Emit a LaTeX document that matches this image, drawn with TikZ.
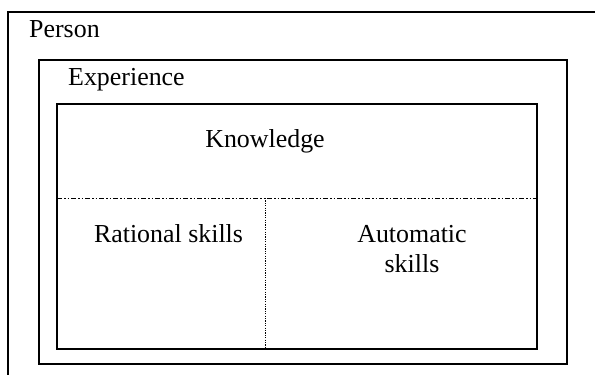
\documentclass[tikz,border=0pt]{standalone}
\usepackage{fontspec}
\setmainfont{Liberation Serif}
\usepackage{tikz}

\begin{document}
\begin{tikzpicture}[x=1bp,y=-1bp,every node/.style={inner sep=0pt,font=\fontsize{26}{30}\selectfont},
  box/.style={line width=1.6bp},
  divline/.style={line width=0.9bp,dash pattern=on 5bp off 2bp on 1.5bp off 2bp on 1.5bp off 2bp},
  splitline/.style={line width=0.9bp,dash pattern=on 1.2bp off 1.2bp}]
\clip (0,0) rectangle (595,374);

%Person box (runs off the page)
\draw[box] (8,12) rectangle (610,390);
\node[anchor=base west] (person) at (29,37) {Person};

%Experience box
\draw[box] (39,60) rectangle (567,364);
\node[anchor=base west] (experience) at (68,85) {Experience};

%Inner box
\coordinate (tl) at (57,104);
\coordinate (br) at (537,349);
\draw[box] (tl) rectangle (br);
\node[anchor=base] (knowledge) at (265,147) {Knowledge};

% Dividers
\coordinate (divL) at (57,198);
\coordinate (divR) at (537,198);
\coordinate (splitT) at (265,198);
\coordinate (splitB) at (265,349);
\draw[divline] (divL) -- (divR);
\draw[splitline] (splitT) -- (splitB);

% Skills
\node[anchor=base] (rational) at (168.5,242) {Rational skills};
\node[anchor=base,align=center] (automatic) at (412,272) {Automatic\\skills};

\end{tikzpicture}
\end{document}
